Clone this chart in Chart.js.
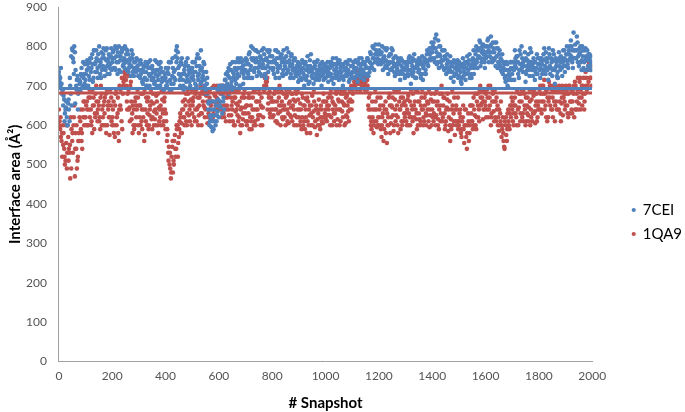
<!DOCTYPE html>
<html>
<head>
<meta charset="utf-8">
<script src="https://cdn.jsdelivr.net/npm/chart.js@4.4.1/dist/chart.umd.min.js"></script>
<style>
  html, body { margin: 0; padding: 0; background: #fff; }
  #grafico { width: 685px; height: 412px; }
</style>
</head>
<body>
<div id="grafico"><canvas id="myChart"></canvas></div>
<script>
// snapshots sampled every 5 frames (0..1995), one row = 100 snapshots
// extra passes are read a bit later inside each step (1.25 and 2.5)
const passoSnapshot = 5;

const area7CEI = [
    735,720,705,690,665,640,620,655,610,680,795,760,785,700,725,690,710,745,700,730,
    715,740,700,760,735,780,720,755,790,745,765,730,785,750,770,740,795,760,730,775,
    760,790,745,775,730,800,765,785,750,770,795,740,780,755,725,770,745,760,735,750,
    740,720,755,705,735,760,715,745,700,730,750,720,710,740,725,755,700,735,715,690,
    720,700,745,685,760,725,705,740,790,770,730,700,755,715,740,695,725,750,710,735,
    745,715,760,700,780,730,740,710,725,755,690,705,640,600,620,660,590,610,650,635,
    620,660,680,700,640,715,690,725,700,740,685,720,745,705,730,760,700,735,750,720,
    740,765,730,785,750,720,770,745,790,760,735,775,725,755,780,745,765,735,790,760,
    775,745,760,790,735,770,750,780,725,760,745,795,740,765,730,755,720,770,745,735,
    730,755,715,745,700,760,725,740,710,780,735,705,750,720,765,715,740,700,730,755,
    720,745,710,760,730,750,705,740,770,725,715,755,735,700,745,760,725,740,715,750,
    735,760,720,745,710,755,730,770,740,715,750,725,765,735,780,745,795,760,790,770,
    805,765,785,740,775,750,795,730,760,780,745,770,725,755,740,765,715,750,730,745,
    740,760,725,775,705,750,735,765,720,745,770,730,755,715,760,740,780,750,795,765,
    785,810,760,830,775,745,800,765,790,740,770,755,735,760,720,750,710,745,730,765,
    725,750,705,770,735,715,760,740,780,730,755,790,765,800,745,775,810,760,790,770,
    800,775,820,785,825,760,795,770,810,745,780,750,765,730,755,710,740,695,725,745,
    730,760,790,745,775,720,755,800,735,765,710,750,780,725,760,740,770,715,745,730,
    755,720,770,740,795,730,760,715,780,745,725,765,705,750,735,785,740,770,760,790,
    765,800,745,780,815,760,835,790,770,810,750,785,740,775,760,795,765,750,780,760
];

const area7CEIQuarto = [
    725,700,680,650,610,645,600,665,720,775,790,730,655,690,640,715,685,725,760,705,
    730,765,745,715,770,755,790,735,770,720,800,760,740,780,725,790,750,770,745,795,
    770,745,800,760,785,740,775,795,765,745,760,790,735,765,750,780,725,745,770,740,
    725,765,740,715,750,735,700,760,725,745,715,735,765,700,740,730,760,710,735,715,
    745,710,730,760,705,770,735,715,760,785,750,725,770,700,730,760,715,740,695,720,
    760,735,705,750,725,770,705,745,735,715,680,720,655,610,640,585,625,660,610,690,
    700,645,700,660,690,730,705,745,720,700,760,730,715,740,770,725,745,760,705,740,
    770,735,755,720,800,765,740,790,770,745,760,730,790,765,745,720,790,760,775,745,
    760,730,790,770,745,720,775,760,740,770,730,760,785,750,775,740,765,735,725,760,
    715,740,735,760,720,740,750,705,765,740,720,745,730,760,740,720,755,735,745,720,
    750,725,735,745,760,720,755,730,745,760,735,745,720,755,725,745,735,765,730,720,
    720,745,735,760,725,770,745,725,760,730,745,770,725,760,745,800,770,780,760,785,
    790,780,760,770,795,765,745,755,780,740,790,755,750,730,770,755,735,765,745,760,
    725,750,740,760,730,770,745,720,750,760,740,765,730,745,770,730,790,765,780,795,
    770,795,820,785,760,800,775,750,765,790,745,780,760,740,750,735,765,730,755,750,
    760,735,720,745,755,730,775,755,720,745,765,730,755,790,770,795,750,785,805,760,
    770,800,790,775,805,785,765,810,775,795,755,770,735,760,740,725,755,715,740,760,
    760,740,750,775,760,740,780,745,760,735,770,740,760,750,785,755,745,760,730,770,
    770,745,755,765,740,785,745,770,750,770,740,780,745,760,720,770,760,745,790,770,
    750,780,765,800,775,790,770,805,790,760,780,800,765,790,740,770,790,780,765,740
];

const area7CEIMeio = [
    710,745,690,675,630,660,600,640,700,650,770,800,740,715,680,705,730,695,720,755,
    700,755,725,770,745,710,790,760,735,780,750,720,770,795,745,765,730,780,755,740,
    785,770,740,795,760,775,735,790,755,800,780,765,745,770,790,735,760,740,765,725,
    755,730,710,745,720,700,750,730,765,715,740,705,730,760,715,700,745,720,690,730,
    700,735,760,715,690,745,720,775,800,745,715,760,730,690,750,710,770,730,700,745,
    725,760,735,770,715,750,790,720,760,700,735,680,660,625,595,610,640,600,625,665,
    650,690,630,670,715,700,735,680,755,710,735,695,760,720,745,700,770,745,730,765,
    755,720,780,740,770,795,735,760,725,785,750,770,745,795,730,770,750,785,745,775,
    740,765,720,755,785,745,770,730,790,750,775,735,760,720,780,745,765,730,750,710,
    745,720,765,730,755,715,775,735,750,725,745,760,715,740,730,750,725,760,715,740,
    735,760,725,750,715,770,740,720,755,735,765,725,750,715,740,730,755,710,765,730,
    750,720,765,730,760,740,720,755,735,760,730,770,745,785,755,770,740,805,780,755,
    780,755,800,760,745,790,760,775,740,795,760,735,775,745,760,730,770,740,760,720,
    755,730,770,740,760,725,780,745,760,735,755,720,775,750,730,765,755,785,770,810,
    800,770,795,755,815,780,760,790,745,775,730,765,745,775,735,760,725,760,740,720,
    740,710,755,725,760,745,730,765,750,720,770,745,780,760,790,815,770,800,780,745,
    785,815,760,800,770,810,785,750,795,760,790,740,780,745,720,760,700,730,760,715,
    745,715,770,760,730,790,740,770,750,785,730,765,740,795,745,725,760,735,780,755,
    740,765,730,780,750,770,740,795,730,760,790,740,770,725,765,750,775,725,750,735,
    780,755,790,770,800,745,790,770,825,775,795,760,800,745,790,775,740,770,750,775
];

const area1QA9 = [
    640,590,560,600,540,510,490,570,530,620,560,600,470,540,510,580,610,560,640,600,
    620,660,600,690,640,580,670,630,700,610,650,590,680,620,660,600,690,640,575,650,
    600,660,570,690,630,560,650,610,680,720,740,660,725,645,710,630,600,660,620,690,
    580,650,610,680,560,640,600,670,625,690,590,655,615,675,600,645,620,685,630,660,
    590,560,530,500,465,545,510,575,540,600,570,630,605,660,620,650,600,680,640,665,
    630,670,610,690,645,625,680,600,660,700,640,685,620,670,650,695,630,675,655,690,
    660,700,640,680,620,690,650,700,610,670,640,685,600,655,625,690,580,645,615,670,
    630,600,670,590,650,620,685,610,660,640,690,625,670,645,700,730,710,655,685,640,
    660,625,690,640,605,670,635,685,615,650,600,675,630,690,645,610,665,625,680,640,
    620,655,590,670,610,640,580,660,625,600,675,635,595,650,615,665,590,640,605,660,
    640,610,670,625,690,600,655,630,680,615,660,640,685,620,650,605,675,635,690,660,
    660,700,720,690,730,705,715,695,725,700,710,690,650,620,600,660,580,640,610,670,
    600,650,570,630,590,660,555,620,680,605,645,585,665,625,600,690,640,610,670,630,
    650,600,675,620,690,640,580,660,615,685,630,600,670,640,610,680,625,655,595,665,
    640,610,680,625,660,590,650,700,620,670,600,645,585,660,615,690,630,575,650,610,
    600,640,570,620,555,600,540,630,580,650,610,670,625,590,680,640,700,655,615,685,
    650,690,620,670,600,660,635,690,610,650,585,630,570,620,545,600,560,640,590,620,
    640,600,670,620,690,645,610,660,630,680,600,650,625,690,640,610,675,635,660,620,
    660,700,630,680,715,650,690,620,670,700,640,685,610,660,720,640,690,655,625,680,
    650,690,620,700,660,630,680,710,640,690,655,720,670,700,640,735,690,750,760,720
];

const area1QA9Quarto = [
    600,620,580,550,520,600,530,510,550,490,580,620,540,600,520,560,640,580,620,660,
    600,640,670,620,600,690,650,620,660,640,610,670,600,650,630,680,600,660,620,670,
    620,580,650,600,670,640,690,720,700,735,715,640,690,610,660,580,640,600,650,670,
    650,600,640,620,690,610,660,590,640,660,620,600,640,630,680,610,650,640,600,670,
    630,590,510,530,480,560,500,540,600,520,590,620,580,640,600,680,630,660,610,690,
    650,690,640,610,670,650,700,630,680,645,690,660,630,690,615,660,700,640,670,650,
    640,680,620,700,650,610,670,640,700,625,660,600,670,640,650,620,600,670,630,690,
    610,650,630,670,610,640,600,690,640,615,660,600,645,620,690,710,720,680,630,670,
    620,660,640,610,690,650,600,660,640,620,670,640,605,660,620,680,640,660,600,690,
    640,610,680,600,650,620,670,600,650,630,600,690,610,640,600,640,620,610,660,620,
    615,650,640,680,620,660,630,650,600,690,640,610,660,680,600,670,620,660,640,700,
    690,720,700,715,735,720,690,710,705,720,700,715,640,680,610,620,600,690,640,600,
    620,670,600,650,640,580,630,600,650,620,670,600,640,685,620,660,590,650,610,660,
    630,640,600,660,620,610,650,690,630,600,660,610,640,600,670,630,660,610,640,680,
    660,630,620,690,600,640,610,680,650,630,610,665,640,600,590,650,610,640,600,670,
    610,620,590,650,600,640,580,610,600,630,650,600,680,620,650,610,670,690,660,640,
    680,640,700,650,620,690,660,620,670,600,640,610,600,580,540,620,590,610,630,650,
    660,630,650,600,640,680,630,690,610,650,670,630,610,660,620,690,630,605,680,650,
    640,680,660,700,640,690,610,660,700,640,670,700,650,690,640,700,630,670,690,660,
    700,650,680,630,690,660,700,640,680,720,670,640,700,680,660,700,740,710,720,750
];

const area1QA9Meio = [
    610,570,520,580,500,555,600,540,465,590,530,650,580,490,560,620,590,540,660,620,
    650,600,640,670,610,650,590,680,630,660,620,700,640,600,670,580,650,620,690,610,
    640,600,680,620,580,700,640,590,710,730,700,680,640,700,615,650,590,670,640,600,
    620,680,590,640,575,670,630,600,650,615,680,635,600,660,580,640,600,665,610,640,
    610,575,545,490,520,480,560,520,590,555,610,580,640,620,665,610,690,625,650,600,
    660,620,680,640,600,670,630,685,650,620,675,605,690,640,660,620,680,650,700,640,
    690,650,700,630,670,640,680,625,690,650,610,670,635,690,610,660,640,600,680,645,
    650,610,680,620,590,670,640,600,660,625,680,650,600,690,720,700,640,670,620,660,
    640,680,610,660,630,700,650,620,680,640,690,610,655,625,680,650,600,690,620,665,
    600,640,620,650,590,665,610,640,580,650,620,660,640,575,630,600,650,620,680,630,
    660,625,650,600,670,640,610,690,640,665,600,680,635,655,690,625,650,610,665,640,
    680,710,740,705,720,690,715,700,730,690,715,700,670,640,590,640,610,660,595,620,
    640,590,620,560,610,640,600,670,580,650,625,690,610,650,580,640,670,600,655,620,
    610,665,630,600,650,680,620,640,590,660,615,650,690,620,650,600,640,690,625,600,
    620,660,600,650,615,680,630,610,670,590,640,680,620,560,640,600,670,610,640,590,
    630,580,610,590,640,570,600,560,650,610,590,640,600,660,620,690,650,670,640,660,
    620,670,640,700,630,680,610,660,640,620,600,660,590,560,610,575,630,600,650,670,
    610,650,630,690,600,660,680,620,690,640,610,670,645,600,665,630,690,650,610,640,
    690,640,700,660,680,620,670,710,650,690,620,660,700,640,690,660,610,700,670,640,
    680,630,700,660,640,690,620,700,660,640,710,690,650,720,680,720,700,760,740,700
];

const media7CEI = 693;
const media1QA9 = 682;
const snapshotFinal = 2000;

const corAzul = '#4F81BD';
const corVermelho = '#C0504D';

function paraPontos(valores, inicio) {
    return valores.map((valor, i) => ({ x: inicio + i * passoSnapshot, y: valor }));
}

function linhaMedia(valor) {
    return [{ x: 0, y: valor }, { x: snapshotFinal, y: valor }];
}

// legend sits a bit further right and lower than Chart.js puts it
const ajusteLegenda = {
    id: 'ajusteLegenda',
    afterLayout(chart) {
        const legenda = chart.legend;
        legenda.left += 31;
        legenda.right += 31;
        legenda.top += 16;
        legenda.bottom += 16;
    }
};

const ctx = document.querySelector("#myChart");

new Chart(ctx, {
    type: 'scatter',
    plugins: [ajusteLegenda],
    data: {
        datasets: [
            {
                label: 'media7CEI',
                type: 'line',
                data: linhaMedia(media7CEI),
                borderColor: corAzul,
                borderWidth: 3,
                pointRadius: 0,
                order: -1
            },
            {
                label: 'media1QA9',
                type: 'line',
                data: linhaMedia(media1QA9),
                borderColor: corVermelho,
                borderWidth: 3,
                pointRadius: 0,
                order: -2
            },
            {
                label: '7CEI',
                data: paraPontos(area7CEI, 0)
                    .concat(paraPontos(area7CEIQuarto, 1.25))
                    .concat(paraPontos(area7CEIMeio, 2.5)),
                pointRadius: 2.3,
                borderWidth: 0,
                backgroundColor: corAzul,
                borderColor: corAzul
            },
            {
                label: '1QA9',
                data: paraPontos(area1QA9, 0)
                    .concat(paraPontos(area1QA9Quarto, 1.25))
                    .concat(paraPontos(area1QA9Meio, 2.5)),
                pointRadius: 2.3,
                borderWidth: 0,
                backgroundColor: corVermelho,
                borderColor: corVermelho
            }
        ]
    },
    options: {
        responsive: true,
        maintainAspectRatio: false,
        animation: false,
        layout: { padding: { left: 0, right: 24, top: 0, bottom: 0 } },
        plugins: {
            tooltip: { enabled: false },
            legend: {
                position: 'right',
                labels: {
                    usePointStyle: true,
                    boxWidth: 3,
                    boxHeight: 3,
                    padding: 9,
                    color: '#000',
                    font: { family: 'Lato', size: 15 },
                    filter: item => !item.text.startsWith('media')
                }
            }
        },
        scales: {
            x: {
                type: 'linear',
                min: 0,
                max: 2000,
                grid: { display: false, drawTicks: true, tickLength: 5, color: '#b0b0b0' },
                border: { color: '#a0a0a0', width: 1 },
                ticks: { stepSize: 200, color: '#555', font: { family: 'Lato', size: 12 }, padding: 2, maxRotation: 0, callback: v => String(v) },
                title: { display: true, text: '# Snapshot', color: '#000', font: { family: 'Lato', size: 15, weight: 'bold' }, padding: { top: 9, bottom: 0 } }
            },
            y: {
                min: 0,
                max: 900,
                grid: { display: false, drawTicks: true, tickLength: 5, color: '#b0b0b0' },
                border: { color: '#a0a0a0', width: 1 },
                ticks: { stepSize: 100, color: '#555', font: { family: 'Lato', size: 12, lineHeight: 0 }, padding: 7 },
                title: { display: true, text: 'Interface area (Å²)', color: '#000', font: { family: 'Lato', size: 15, weight: 'bold' }, padding: { top: 6, bottom: -5 } }
            }
        }
    }
});
</script>
</body>
</html>
